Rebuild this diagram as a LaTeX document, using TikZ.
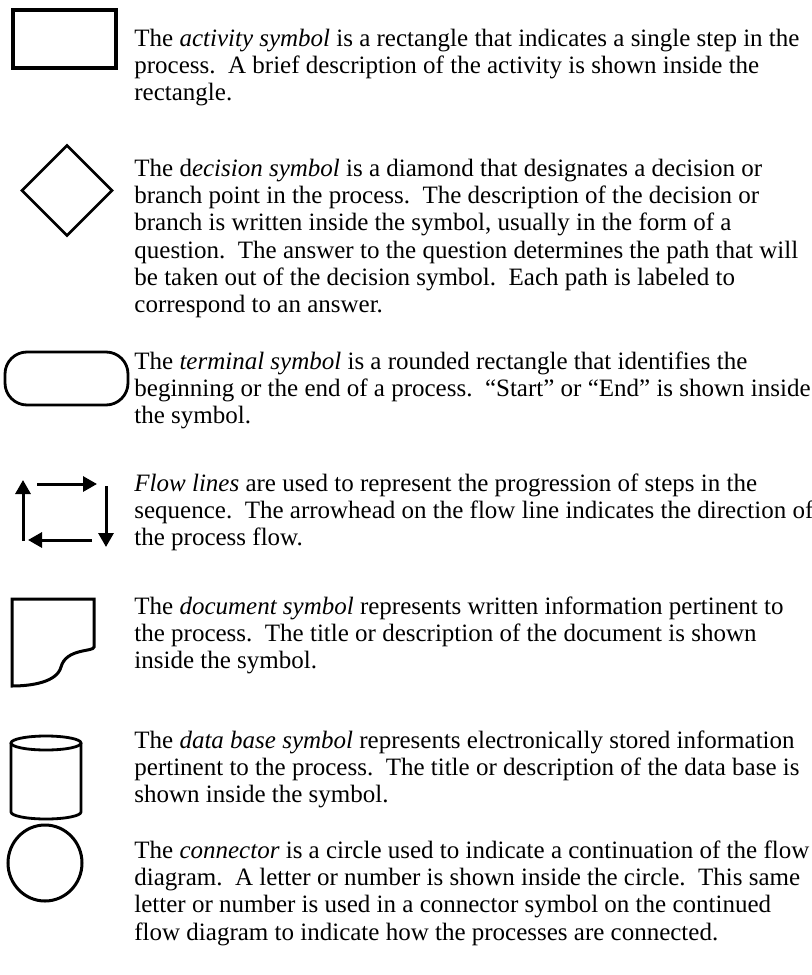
\documentclass[tikz,border=0pt]{standalone}
\usepackage{fontspec}
\setmainfont{Liberation Serif}
\usetikzlibrary{shapes.geometric,arrows.meta,positioning}

\begin{document}
\begin{tikzpicture}[x=0.5pt,y=-0.5pt,
  sym/.style={draw,line width=1.4pt,inner sep=0pt},
  flow/.style={line width=1.5pt,-{Triangle[length=7pt,width=7.5pt]}},
  desc/.style={anchor=base west,align=left,inner sep=0pt,font=\fontsize{12.5}{13.6}\selectfont}]

\useasboundingbox (0,0) rectangle (812,975);

% activity
\node[sym,line width=1.8pt,minimum width=51.5pt,minimum height=29pt] (act) at (64.5,39) {};
\node[desc] (tact) at (134,100.9) {The \emph{activity symbol} is a rectangle that indicates a single step in the\\
process.\ \ A brief description of the activity is shown inside the\\
rectangle.};

% decision
\node[sym,diamond,line width=1.3pt,minimum width=45.5pt,minimum height=45.5pt] (dec) at (67,190.5) {};
\node[desc] (tdec) at (134,312.5) {The d\emph{ecision symbol} is a diamond that designates a decision or\\
branch point in the process.\ \ The description of the decision or\\
branch is written inside the symbol, usually in the form of a\\
question.\ \ The answer to the question determines the path that will\\
be taken out of the decision symbol.\ \ Each path is labeled to\\
correspond to an answer.};

% terminal
\node[sym,rounded corners=11pt,minimum width=61.5pt,minimum height=26.5pt] (term) at (66.5,378.5) {};
\node[desc] (tterm) at (134,423.9) {The \emph{terminal symbol} is a rounded rectangle that identifies the\\
beginning or the end of a process.\ \ “Start” or “End” is shown inside\\
the symbol.};

% flow lines
\coordinate (f1) at (37,484);
\coordinate (f2) at (97,484);
\coordinate (f3) at (106,486);
\coordinate (f4) at (106,547);
\coordinate (f5) at (92,540);
\coordinate (f6) at (28,540);
\coordinate (f7) at (23,541);
\coordinate (f8) at (23,480);
\draw[flow] (f1) -- (f2);
\draw[flow] (f3) -- (f4);
\draw[flow] (f5) -- (f6);
\draw[flow] (f7) -- (f8);
\node[desc] (tflow) at (134,545.9) {\emph{Flow lines} are used to represent the progression of steps in the\\
sequence.\ \ The arrowhead on the flow line indicates the direction of\\
the process flow.};

% document
\draw[line width=1.5pt,line join=miter] (12,599) -- (94,599) -- (94,647)
  .. controls (94,652) and (66,648) .. (61,667)
  .. controls (57,682) and (32,686) .. (12,686) -- cycle;
\node[desc] (tdoc) at (134,668.9) {The \emph{document symbol} represents written information pertinent to\\
the process.\ \ The title or description of the document is shown\\
inside the symbol.};

% data base
\draw[line width=1.4pt] (46,743) ellipse [x radius=35,y radius=7];
\draw[line width=1.4pt] (11,743) -- (11,812) arc[start angle=180,end angle=0,x radius=35,y radius=7] -- (81,743);
\node[desc] (tdb) at (134,802.9) {The \emph{data base symbol} represents electronically stored information\\
pertinent to the process.\ \ The title or description of the data base is\\
shown inside the symbol.};

% connector
\draw[line width=1.5pt] (45,863) ellipse [x radius=37,y radius=38];
\node[desc] (tconn) at (134,940.1) {The \emph{connector} is a circle used to indicate a continuation of the flow\\
diagram.\ \ A letter or number is shown inside the circle.\ \ This same\\
letter or number is used in a connector symbol on the continued\\
flow diagram to indicate how the processes are connected.};

\end{tikzpicture}
\end{document}
